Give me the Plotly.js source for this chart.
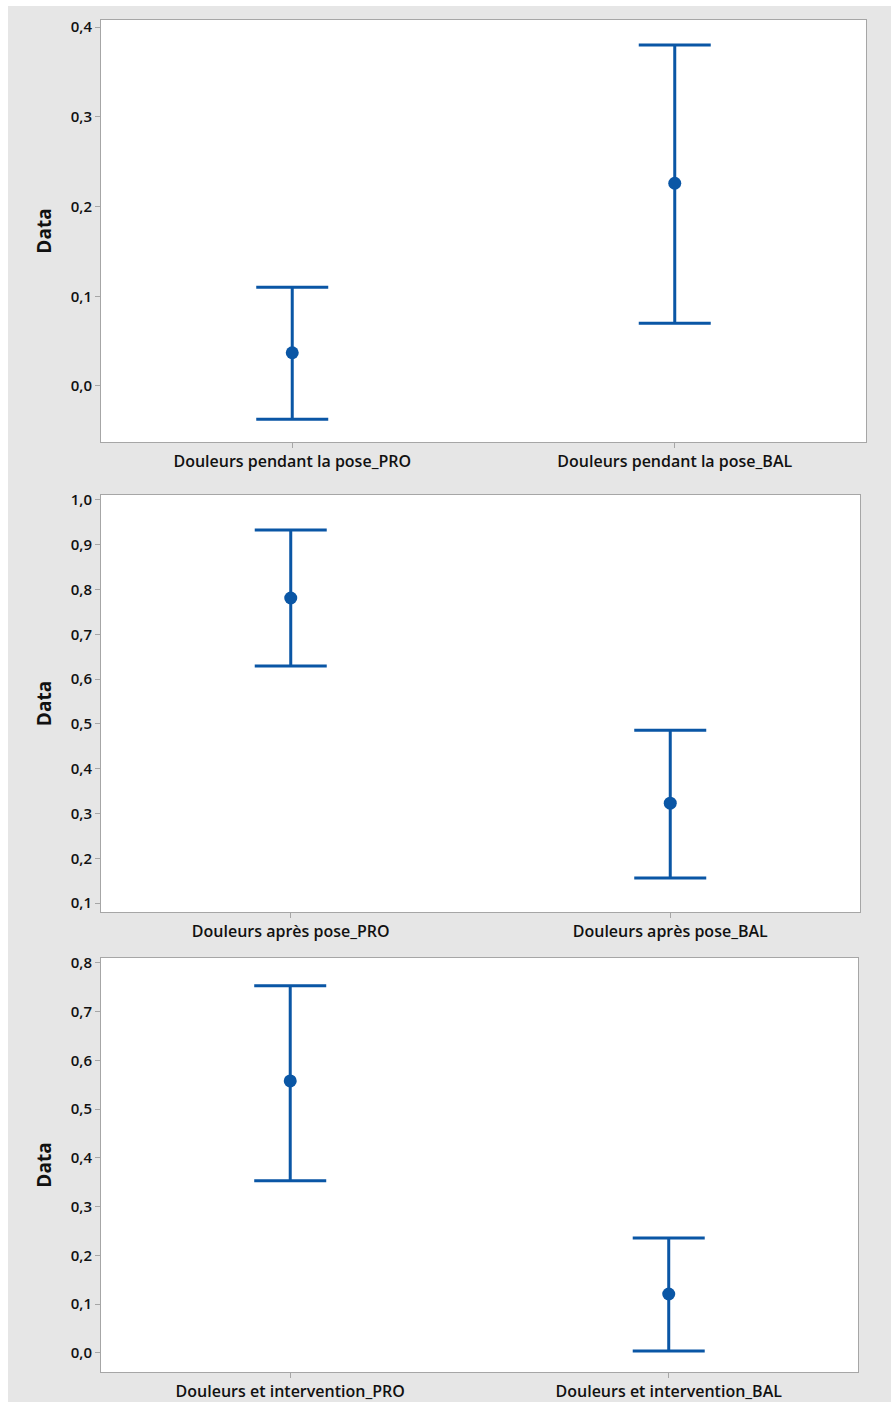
<!DOCTYPE html>
<html>
<head>
<meta charset="utf-8">
<script src="https://cdn.plot.ly/plotly-3.0.1.min.js"></script>
<style>
body { margin: 0; background: white; }
#chart { position: absolute; left: 8px; top: 6px; width: 883px; height: 1396px; }
</style>
</head>
<body>
<div id="chart"></div>
<script>
let cats1 = ["Douleurs pendant la pose_PRO", "Douleurs pendant la pose_BAL"]
let mean1 = [0.037, 0.226]
let upper1 = [0.110, 0.380]
let lower1 = [-0.037, 0.070]

let cats2 = ["Douleurs après pose_PRO", "Douleurs après pose_BAL"]
let mean2 = [0.781, 0.323]
let upper2 = [0.933, 0.486]
let lower2 = [0.629, 0.156]

let cats3 = ["Douleurs et intervention_PRO", "Douleurs et intervention_BAL"]
let mean3 = [0.558, 0.121]
let upper3 = [0.753, 0.236]
let lower3 = [0.353, 0.004]

let blue = "#0a56a5"

function makeTrace(cats, mean, upper, lower, n) {
    return {
        x: cats,
        y: mean,
        xaxis: "x" + (n === 1 ? "" : n),
        yaxis: "y" + (n === 1 ? "" : n),
        type: "scatter",
        mode: "markers",
        marker: { color: blue, size: 13 },
        error_y: {
            type: "data",
            symmetric: false,
            array: upper.map((u, i) => u - mean[i]),
            arrayminus: lower.map((l, i) => mean[i] - l),
            color: blue,
            thickness: 3,
            width: 36
        },
        hoverinfo: "x+y"
    }
}

function xAxis(dom, anchor) {
    return {
        domain: dom, anchor: anchor, range: [-0.5, 1.5],
        showline: true, mirror: true, linecolor: "#a6a6a6", linewidth: 1,
        ticks: "outside", ticklen: 5, tickcolor: "#a6a6a6",
        showgrid: false, zeroline: false,
        tickfont: { size: 16, color: "#111", family: "Open Sans", weight: 600 }
    }
}

function yAxis(dom, anchor, range) {
    return {
        domain: dom, anchor: anchor, range: range, dtick: 0.1, tick0: 0,
        tickformat: ".1f",
        showline: true, mirror: true, linecolor: "#a6a6a6", linewidth: 1,
        ticks: "outside", ticklen: 5, tickcolor: "#a6a6a6",
        showgrid: false, zeroline: false,
        tickfont: { size: 15, color: "#111", family: "Open Sans", weight: 600 },
        title: { text: "Data", font: { size: 19, color: "#111", family: "Open Sans", weight: "bold" }, standoff: 14 }
    }
}

let layout = {
    width: 883, height: 1396,
    margin: { l: 0, r: 0, t: 0, b: 0 },
    paper_bgcolor: "#e6e6e6",
    plot_bgcolor: "white",
    separators: ",.",
    showlegend: false,
    font: { family: "Open Sans" },
    xaxis: xAxis([0.1053, 0.9717], "y"),
    yaxis: yAxis([0.68768, 0.98997], "x", [-0.0625, 0.408]),
    xaxis2: xAxis([0.1053, 0.9649], "y2"),
    yaxis2: yAxis([0.35100, 0.64971], "x2", [0.080, 1.011]),
    xaxis3: xAxis([0.1053, 0.9626], "y3"),
    yaxis3: yAxis([0.02149, 0.31805], "x3", [-0.039, 0.810])
}

Plotly.newPlot("chart", [
    makeTrace(cats1, mean1, upper1, lower1, 1),
    makeTrace(cats2, mean2, upper2, lower2, 2),
    makeTrace(cats3, mean3, upper3, lower3, 3)
], layout, { displayModeBar: false })
</script>
</body>
</html>
